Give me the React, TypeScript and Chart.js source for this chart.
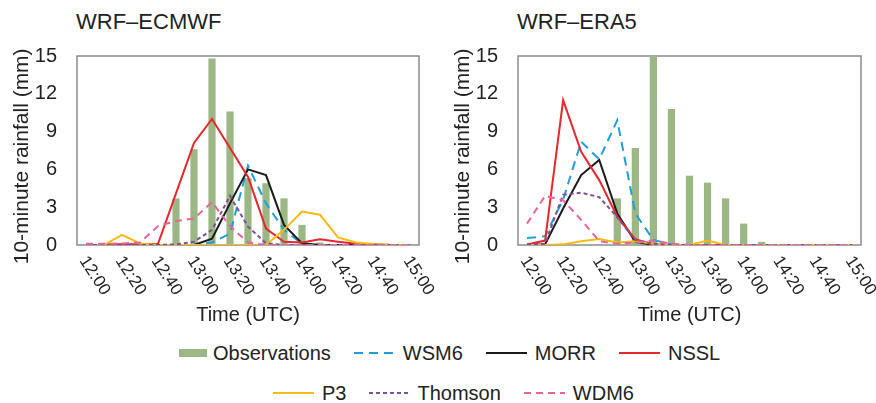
import React, { useEffect, useRef } from 'react';
import { Chart, registerables } from 'chart.js';

Chart.register(...registerables);

// ---------- data ----------
const times = [
  '12:00', '12:10', '12:20', '12:30', '12:40', '12:50', '13:00', '13:10', '13:20', '13:30',
  '13:40', '13:50', '14:00', '14:10', '14:20', '14:30', '14:40', '14:50', '15:00',
];

// WRF–ECMWF panel
const obsECMWF = [0, 0, 0, 0, 0, 3.7, 7.6, 14.8, 10.6, 5.3, 4.9, 3.7, 1.6, 0.2, 0, 0, 0, 0, 0];
const wsm6ECMWF = [0, 0, 0, 0, 0, 0, 0, 0.2, 0.9, 6.3, 3.3, 1.2, 0.1, 0, 0, 0, 0, 0, 0];
const morrECMWF = [null, null, 0, 0, 0, 0, 0, 0.5, 3.3, 6.0, 5.55, 1.6, 0.13, 0, 0, 0, 0, 0, 0];
const nsslECMWF = [null, 0.05, 0.05, 0.05, 0.1, 4.1, 8.1, 10.0, 7.7, 5.4, 1.3, 0.25, 0.2, 0.45, 0.26, 0.1, 0.05, 0, 0];
const p3ECMWF = [null, 0, 0.8, 0.12, 0, 0, 0, 0, 0, 0, 0, 1.2, 2.65, 2.4, 0.6, 0.2, 0.08, 0, 0];
const thomsonECMWF = [0, 0, 0, 0, 0, 0.05, 0.26, 1.2, 3.9, 1.45, 0.15, 0, 0, 0, 0, 0, 0, 0, 0];
const wdm6ECMWF = [0.1, 0.1, 0.12, 0.2, 1.5, 1.9, 2.1, 3.4, 1.5, 0.2, 0, 0, 0, 0, 0, 0, 0, 0, 0];

// WRF–ERA5 panel
const obsERA5 = [0, 0, 0, 0, 0, 3.7, 7.7, 15.0, 10.8, 5.5, 4.95, 3.7, 1.7, 0.25, 0, 0, 0, 0, 0];
const wsm6ERA5 = [0.55, 0.7, 3.6, 8.2, 6.8, 9.9, 2.5, 0.4, 0.05, 0, 0, 0, 0, 0, 0, 0, 0, 0, 0];
const morrERA5 = [0, 0.05, 2.9, 5.55, 6.75, 2.5, 0.25, 0, 0, 0, 0, 0, 0, 0, 0, 0, 0, 0, 0];
const nsslERA5 = [0.05, 0.35, 11.5, 7.4, 5.15, 2.25, 0.45, 0.05, 0, 0, 0, 0, 0, 0, 0, 0, 0, 0, 0];
const p3ERA5 = [0, 0, 0.05, 0.3, 0.48, 0.2, 0.3, 0.1, 0, 0, 0.35, 0, 0, 0, 0, 0, 0, 0, 0];
const thomsonERA5 = [0.05, 0.1, 4.0, 4.15, 3.8, 2.2, 0.4, 0.1, 0, 0, 0, 0, 0, 0, 0, 0, 0, 0, 0];
const wdm6ERA5 = [1.7, 3.9, 3.55, 2.0, 0.3, 0.1, 0.2, 0.35, 0.1, 0, 0, 0, 0, 0, 0, 0, 0, 0, 0];

const yTicks = [0, 3, 6, 9, 12, 15];

// ---------- styles ----------
const FONT = '"Liberation Sans", Arial, Helvetica, sans-serif';
const TEXT = '#222222';
const C = {
  obs: '#9BB784',
  wsm6: '#1E9FDC',
  morr: '#1a1a1a',
  nssl: '#E8262B',
  p3: '#FDB913',
  thomson: '#7D4E9A',
  wdm6: '#E9649B',
};
const DASH = {
  wsm6: [9, 6],
  thomson: [4, 3],
  wdm6: [7, 5],
};

const framePlugin = {
  id: 'frame',
  beforeDatasetsDraw(chart: any) {
    const { ctx, chartArea: a } = chart;
    ctx.save();
    ctx.strokeStyle = '#8c8c8c';
    ctx.lineWidth = 1.5;
    ctx.strokeRect(a.left, a.top, a.right - a.left, a.bottom - a.top);
    ctx.restore();
  },
};

const xLabelPlugin = {
  id: 'xlabels',
  afterDraw(chart: any) {
    const { ctx, chartArea: a } = chart;
    const sc = chart.scales.x;
    ctx.save();
    ctx.font = `17px ${FONT}`;
    ctx.fillStyle = TEXT;
    ctx.textAlign = 'left';
    ctx.textBaseline = 'middle';
    times.forEach((t, i) => {
      if (i % 2 !== 0) return;
      const x = sc.getPixelForValue(i);
      ctx.save();
      ctx.translate(x - 3, a.bottom + 13);
      ctx.rotate((57 * Math.PI) / 180);
      ctx.fillText(t, 0, 0);
      ctx.restore();
    });
    ctx.restore();
  },
};

function lineDs(label: string, data: any[], color: string, dash: number[] | undefined, order: number) {
  return {
    type: 'line',
    label,
    data,
    borderColor: color,
    backgroundColor: color,
    borderWidth: 2,
    borderDash: dash || [],
    pointRadius: 0,
    tension: 0,
    fill: false,
    order,
  };
}

type Series = {
  obs: number[];
  wsm6: any[];
  morr: any[];
  nssl: any[];
  p3: any[];
  thomson: any[];
  wdm6: any[];
};

function Panel({ title, series, left, width, padRight }: { title: string; series: Series; left: number; width: number; padRight: number }) {
  const ref = useRef<HTMLCanvasElement | null>(null);
  useEffect(() => {
    if (!ref.current) return;
    const chart = new Chart(ref.current, {
      type: 'bar',
      data: {
        labels: times,
        datasets: [
          {
            type: 'bar',
            label: 'Observations',
            data: series.obs,
            backgroundColor: C.obs,
            barPercentage: 0.4,
            categoryPercentage: 1,
            order: 7,
          } as any,
          lineDs('WSM6', series.wsm6, C.wsm6, DASH.wsm6, 6),
          lineDs('MORR', series.morr, C.morr, undefined, 5),
          lineDs('NSSL', series.nssl, C.nssl, undefined, 4),
          lineDs('P3', series.p3, C.p3, undefined, 3),
          lineDs('Thomson', series.thomson, C.thomson, DASH.thomson, 2),
          lineDs('WDM6', series.wdm6, C.wdm6, DASH.wdm6, 1),
        ] as any,
      },
      options: {
        animation: false,
        responsive: false,
        maintainAspectRatio: false,
        devicePixelRatio: 1,
        layout: { padding: { left: 0, right: padRight, top: 56, bottom: 0 } },
        plugins: {
          legend: { display: false },
          tooltip: { enabled: false },
          title: { display: false },
        },
        scales: {
          x: {
            type: 'category',
            offset: true,
            grid: { display: false },
            border: { display: false },
            ticks: { display: false },
            title: {
              display: true,
              text: 'Time (UTC)',
              color: TEXT,
              font: { family: FONT, size: 20 },
              padding: { top: 0, bottom: 13 },
            },
            afterFit: (s: any) => {
              s.height = 95;
            },
          },
          y: {
            min: 0,
            max: 15,
            afterBuildTicks: (s: any) => {
              s.ticks = yTicks.map((v) => ({ value: v }));
            },
            ticks: { color: TEXT, font: { family: FONT, size: 20 }, padding: 12 },
            grid: { display: false },
            border: { display: false },
            title: {
              display: true,
              text: '10-minute rainfall (mm)  ',
              color: TEXT,
              font: { family: FONT, size: 21 },
              padding: { top: 10, bottom: 0 },
            },
            afterFit: (s: any) => {
              s.width = 77;
            },
          },
        },
      } as any,
      plugins: [framePlugin, xLabelPlugin],
    });
    return () => chart.destroy();
  }, []);
  return (
    <>
      <div
        style={{
          position: 'absolute',
          left: left + 76,
          top: 8,
          fontFamily: FONT,
          fontSize: 22,
          color: TEXT,
          lineHeight: '28px',
          whiteSpace: 'nowrap',
        }}
      >
        {title}
      </div>
      <canvas
        ref={ref}
        width={width}
        height={340}
        style={{ position: 'absolute', left, top: 0, width, height: 340 }}
      />
    </>
  );
}

function Sample({ kind, color, dash }: { kind: 'box' | 'line'; color: string; dash?: number[] }) {
  if (kind === 'box') {
    return (
      <svg width={28} height={12} style={{ display: 'block' }}>
        <rect x={0} y={2} width={28} height={8} fill={color} />
      </svg>
    );
  }
  return (
    <svg width={41} height={12} style={{ display: 'block' }}>
      <line x1={0} y1={6} x2={41} y2={6} stroke={color} strokeWidth={2} strokeDasharray={dash ? dash.join(' ') : undefined} />
    </svg>
  );
}

function LegendItem({ label, kind, color, dash, gap }: { label: string; kind: 'box' | 'line'; color: string; dash?: number[]; gap: number }) {
  return (
    <div style={{ display: 'flex', alignItems: 'center', marginRight: 23 }}>
      <Sample kind={kind} color={color} dash={dash} />
      <span style={{ marginLeft: gap, fontFamily: FONT, fontSize: 20, color: TEXT, whiteSpace: 'nowrap' }}>{label}</span>
    </div>
  );
}

export default function App() {
  const ecmwf: Series = {
    obs: obsECMWF,
    wsm6: wsm6ECMWF,
    morr: morrECMWF,
    nssl: nsslECMWF,
    p3: p3ECMWF,
    thomson: thomsonECMWF,
    wdm6: wdm6ECMWF,
  };
  const era5: Series = {
    obs: obsERA5,
    wsm6: wsm6ERA5,
    morr: morrERA5,
    nssl: nsslERA5,
    p3: p3ERA5,
    thomson: thomsonERA5,
    wdm6: wdm6ERA5,
  };
  return (
    <div
      style={{
        position: 'fixed',
        left: 0,
        top: 0,
        width: 876,
        height: 403,
        background: '#ffffff',
        overflow: 'hidden',
      }}
    >
      <Panel title="WRF–ECMWF" series={ecmwf} left={0} width={438} padRight={19} />
      <Panel title="WRF–ERA5" series={era5} left={441} width={435} padRight={15} />
      <div style={{ position: 'absolute', left: 179, top: 340, height: 26, display: 'flex', alignItems: 'center' }}>
        <LegendItem label="Observations" kind="box" color={C.obs} gap={6} />
        <LegendItem label="WSM6" kind="line" color={C.wsm6} dash={DASH.wsm6} gap={8} />
        <LegendItem label="MORR" kind="line" color={C.morr} gap={8} />
        <LegendItem label="NSSL" kind="line" color={C.nssl} gap={8} />
      </div>
      <div style={{ position: 'absolute', left: 273, top: 380, height: 26, display: 'flex', alignItems: 'center' }}>
        <LegendItem label="P3" kind="line" color={C.p3} gap={8} />
        <LegendItem label="Thomson" kind="line" color={C.thomson} dash={DASH.thomson} gap={7} />
        <LegendItem label="WDM6" kind="line" color={C.wdm6} dash={DASH.wdm6} gap={8} />
      </div>
    </div>
  );
}
